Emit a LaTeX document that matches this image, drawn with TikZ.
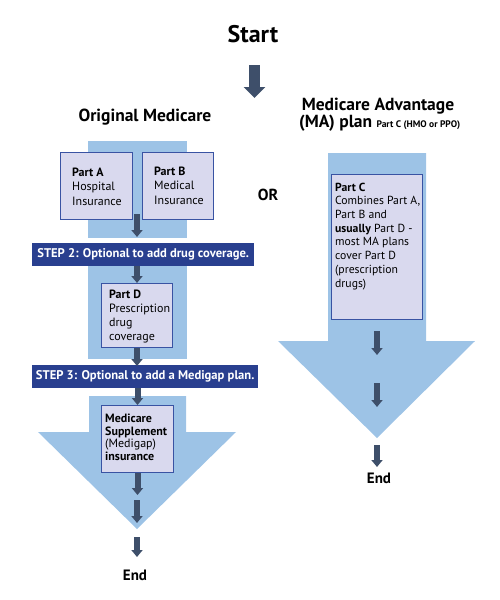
\documentclass[tikz,border=0pt]{standalone}
\usepackage{fontspec}
\setmainfont{PT Sans}
\usetikzlibrary{arrows.meta}
\definecolor{lblue}{HTML}{9DC3E6}
\definecolor{banner}{HTML}{293F8F}
\definecolor{boxfill}{HTML}{D9D9EE}
\definecolor{boxline}{HTML}{3953A3}
\definecolor{arr}{HTML}{3E4F6A}
\tikzset{
  partbox/.style={draw=boxline, fill=boxfill, line width=1pt, inner sep=0pt},
  parttext/.style={anchor=base west, align=left, inner sep=0pt, font=\fontsize{12}{14.2}\selectfont},
  stepbar/.style={fill=banner, inner sep=0pt, text=white, font=\bfseries\fontsize{12.6}{14}\selectfont},
  flow/.style={draw=arr, line width=6pt, -{Triangle[width=11pt,length=7pt]}},
  bigflow/.style={draw=arr, line width=11pt, -{Triangle[width=21pt,length=11pt]}},
  title/.style={inner sep=0pt, font=\bfseries\fontsize{17.5}{20}\selectfont},
  endtext/.style={inner sep=0pt, anchor=base, font=\bfseries\fontsize{15}{18}\selectfont},
}
\begin{document}
\begin{tikzpicture}[x=1pt,y=-1pt]
\useasboundingbox (0,0) rectangle (500,600);
% background big arrows
\fill[lblue] (88,141) rectangle (187,238);
\fill[lblue] (88,266) rectangle (187,359);
\fill[lblue] (89,396) -- (186,396) -- (186,432) -- (236,432) -- (137,529) -- (38,432) -- (89,432) -- cycle;
\fill[lblue] (328,153) -- (426,153) -- (426,341) -- (475,341) -- (377,438) -- (278,341) -- (328,341) -- cycle;

% titles
\node[inner sep=0pt, anchor=base, font=\bfseries\fontsize{24}{28}\selectfont] (start) at (253,42) {Start};
\coordinate (startA) at (254.5,65);
\coordinate (startB) at (254.5,98);
\draw[bigflow] (startA) -- (startB);
\node[title, anchor=base] (orig) at (145,121) {Original Medicare};
\node[title, anchor=base] (ma1) at (378,110) {Medicare Advantage};
\node[title, anchor=base west] (ma2) at (299,127) {(MA) plan \fontsize{9.5}{11}\selectfont Part C (HMO or PPO)};
\node[inner sep=0pt, anchor=base, font=\bfseries\fontsize{16}{18}\selectfont] (or) at (268,200) {OR};

% boxes
\node[partbox, minimum width=72pt, minimum height=67pt, anchor=north west] (A) at (60,152) {};
\node[partbox, minimum width=71pt, minimum height=67pt, anchor=north west] (B) at (142,152) {};
\node[partbox, minimum width=71pt, minimum height=64pt, anchor=north west] (D) at (101,283) {};
\node[partbox, minimum width=72pt, minimum height=67pt, anchor=north west] (M) at (101,405) {};
\node[partbox, minimum width=91pt, minimum height=145pt, anchor=north west] (C) at (331,174) {};

% (multi-line nodes: base = last line's baseline)
\node[parttext] (At) at (72,205) {\textbf{Part A}\\Hospital\\Insurance};
\node[parttext] (Bt) at (154,204) {\textbf{Part B}\\Medical\\Insurance};
\node[parttext, font=\fontsize{12}{14}\selectfont] (Dt) at (109,340) {\textbf{Part D}\\Prescription\\drug\\coverage};
\node[parttext, font=\fontsize{12}{12.5}\selectfont] (Mt) at (105,460) {\textbf{Medicare}\\\textbf{Supplement}\\(Medigap)\\\textbf{insurance}};
\node[parttext, font=\fontsize{11.7}{13.7}\selectfont] (Ct) at (335,287) {\textbf{Part C}\\Combines Part A,\\Part B and\\\textbf{usually} Part D -\\most MA plans\\cover Part D\\(prescription\\drugs)};

% step banners
\node[stepbar, minimum width=222pt, minimum height=23pt, anchor=north west] (s2) at (32,243) {STEP 2: Optional to add drug coverage.};
\node[stepbar, minimum width=226pt, minimum height=23pt, anchor=north west] (s3) at (32,365) {STEP 3: Optional to add a Medigap plan.};

% left flow arrows
\coordinate (a1s) at (137,214);
\coordinate (a1e) at (137,237);
\draw[flow] (a1s) -- (a1e);
\draw[flow] (D.north |- s2.south) -- (D.north);
\draw[flow] (D.south) -- ([yshift=-1pt]D.south |- s3.north);
\draw[flow] (M.north |- s3.south) -- (M.north);
\coordinate (a6s) at (137,500);
\coordinate (a6e) at (137,523);
\coordinate (a7s) at (137,537);
\coordinate (a7e) at (137,557);
\draw[flow] (M.south) -- ([yshift=-22pt]M.south);
\draw[flow] (a6s) -- (a6e);
\draw[flow] (a7s) -- (a7e);
\node[endtext] (end1) at (135,580) {End};

% right flow arrows
\coordinate (r1s) at (377,331);
\coordinate (r1e) at (377,355);
\coordinate (r2s) at (377,383);
\coordinate (r2e) at (377,407);
\coordinate (r3s) at (377,445);
\coordinate (r3e) at (377,467);
\draw[flow] (r1s) -- (r1e);
\draw[flow] (r2s) -- (r2e);
\draw[flow] (r3s) -- (r3e);
\node[endtext] (end2) at (379,483) {End};
\end{tikzpicture}
\end{document}
